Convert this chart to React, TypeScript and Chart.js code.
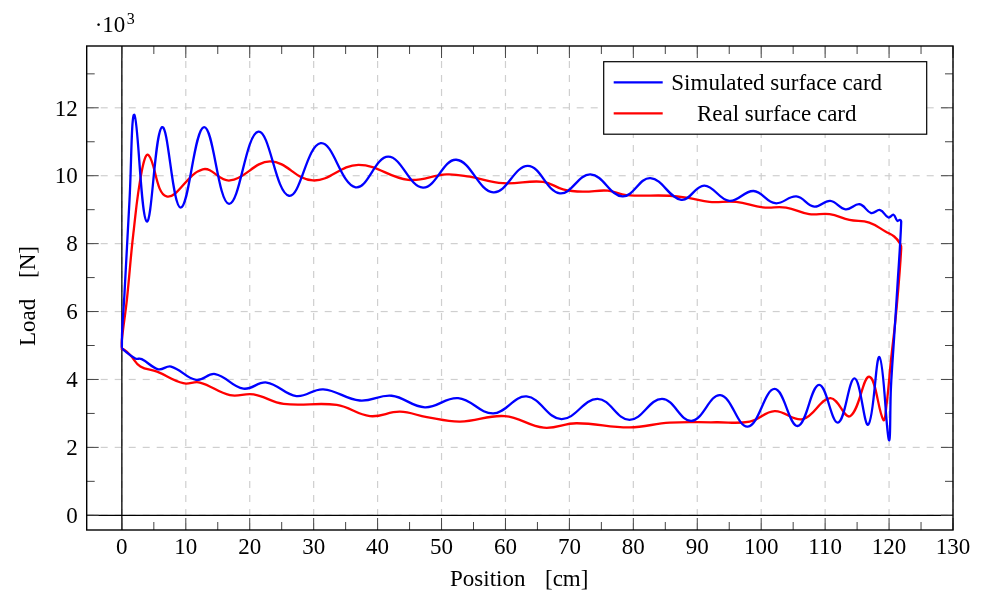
import React, { useEffect, useRef } from "react";
import { Chart, registerables } from "chart.js";

Chart.register(...registerables);

// ---------- data ----------
const X_TICKS = [0, 10, 20, 30, 40, 50, 60, 70, 80, 90, 100, 110, 120, 130];
const X_MINOR = [5, 15, 25, 35, 45, 55, 65, 75, 85, 95, 105, 115, 125];
const Y_TICKS = [0, 2000, 4000, 6000, 8000, 10000, 12000];
const Y_MINOR = [1000, 3000, 5000, 7000, 9000, 11000, 13000];
const X_MIN = -5.5;
const X_MAX = 130;
const Y_MIN = -433;
const Y_MAX = 13820;

const SERIES_LABELS = ["Simulated surface card", "Real surface card"];
const X_TITLE = ["Position", "[cm]"];
const Y_TITLE = ["Load", "[N]"];

// Simulated surface card: position [cm]
const SIM_X = [
  0, 0.05, 0.4, 1.2, 1.97, 3.9, 6.3, 9.2, 12.86, 16.77, 21.35, 26.14, 31.1, 36.56, 41.66,
  47.1, 52.3, 58.1, 63.5, 68.5, 73.3, 78.3, 82.66, 87.5, 91.1, 95.0, 98.8, 102.2, 105.5,
  108.3, 110.8, 113.2, 115.4, 117.2, 118.6, 119.9, 120.7, 121.3, 121.7, 121.9,
  121.3, 120.8, 120.3, 119.97,
  118.5, 116.75, 114.6, 112.0, 109.05, 105.7, 102.1, 97.9, 93.6, 89.1, 84.5, 79.4, 74.4,
  68.75, 63.3, 58.1, 52.6, 47.4, 42.2, 37.2, 31.5, 27.3, 22.65, 19.0, 14.6, 11.6, 7.7,
  5.7, 3.1, 2.1, 0.25, 0,
];
// Simulated surface card: load [N]
const SIM_LOAD = [
  4930, 5450, 6500, 9300, 11790, 8650, 11430, 9060, 11430, 9170, 11300, 9410, 10960, 9660, 10560,
  9650, 10470, 9510, 10290, 9480, 10040, 9390, 9930, 9290, 9710, 9260, 9550, 9190, 9390,
  9090, 9260, 9010, 9160, 8900, 8990, 8770, 8850, 8670, 8700, 8650,
  6730, 5260, 3790, 2220,
  4660, 2670, 4030, 2730, 3840, 2630, 3720, 2610, 3540, 2780, 3430, 2810, 3430,
  2830, 3500, 3000, 3450, 3180, 3520, 3380, 3710, 3510, 3910, 3730, 4160, 3990, 4380,
  4300, 4600, 4620, 4870, 4930,
];

// Real surface card: position [cm]
const REAL_X = [
  0, 0, 0.78, 1.8, 3.1, 4.16, 7.0, 12.65, 16.9, 23.2, 29.9, 37.0, 44.8, 50.8, 54.4, 59.6,
  65.9, 69.0, 72.1, 76.0, 78.9, 85.7, 88.8, 91.9, 96.1, 100.25, 103.9, 107.5, 110.7, 113.8,
  116.9, 119.5, 120.8, 121.7, 121.9,
  121.1, 120.3, 119.6, 119.1,
  116.9, 113.9, 110.8, 106.5, 102.1, 98.2, 93.0, 85.7, 79.4, 71.1, 66.0, 59.9, 52.9, 47.7,
  43.5, 38.8, 33.6, 25.3, 20.6, 16.9, 12.2, 9.6, 5.5, 2.9, 1.3, 0.25, 0,
];
// Real surface card: load [N]
const REAL_LOAD = [
  4870, 5160, 6340, 8300, 10120, 10610, 9390, 10190, 9860, 10420, 9860, 10320, 9880, 10040, 9970, 9780,
  9820, 9600, 9530, 9560, 9430, 9410, 9340, 9230, 9230, 9070, 9060, 8870, 8870, 8700,
  8620, 8350, 8210, 8010, 7860,
  5950, 4570, 3250, 2810,
  4080, 2920, 3450, 2830, 3070, 2760, 2740, 2730, 2590, 2710, 2580, 2920, 2760, 2890,
  3050, 2920, 3250, 3280, 3560, 3540, 3910, 3890, 4230, 4380, 4720, 4890, 4870,
];

const SERIES_COLORS = ["#0000ff", "#ff0000"];
const FONT = "'Liberation Serif', 'DejaVu Serif', serif";

const toPoints = (xs: number[], ys: number[]) => xs.map((x, i) => ({ x, y: ys[i] }));

const framePlugin = {
  id: "pgfFrame",
  beforeDatasetsDraw(chart: any) {
    const { ctx, chartArea: a, scales } = chart;
    const sx = scales.x;
    const sy = scales.y;
    ctx.save();
    // dashed grid
    ctx.strokeStyle = "#cfcfcf";
    ctx.lineWidth = 1.2;
    ctx.setLineDash([7, 7]);
    for (const t of X_TICKS) {
      const px = sx.getPixelForValue(t);
      ctx.beginPath();
      ctx.moveTo(px, a.bottom);
      ctx.lineTo(px, a.top);
      ctx.stroke();
    }
    for (const t of Y_TICKS) {
      const py = sy.getPixelForValue(t);
      ctx.beginPath();
      ctx.moveTo(a.left, py);
      ctx.lineTo(a.right, py);
      ctx.stroke();
    }
    ctx.setLineDash([]);
    // zero axes
    ctx.strokeStyle = "#000";
    ctx.lineWidth = 1.3;
    const x0 = sx.getPixelForValue(0);
    const y0 = sy.getPixelForValue(0);
    ctx.beginPath();
    ctx.moveTo(x0, a.top);
    ctx.lineTo(x0, a.bottom);
    ctx.moveTo(a.left, y0);
    ctx.lineTo(a.right, y0);
    ctx.stroke();
    ctx.restore();
  },
  afterDatasetsDraw(chart: any) {
    const { ctx, chartArea: a, scales } = chart;
    const sx = scales.x;
    const sy = scales.y;
    ctx.save();
    // ticks inside, on all four sides
    ctx.strokeStyle = "#444";
    ctx.lineWidth = 1;
    const tick = (t: number, len: number, horiz: boolean) => {
      ctx.beginPath();
      if (horiz) {
        const px = sx.getPixelForValue(t);
        ctx.moveTo(px, a.bottom);
        ctx.lineTo(px, a.bottom - len);
        ctx.moveTo(px, a.top);
        ctx.lineTo(px, a.top + len);
      } else {
        const py = sy.getPixelForValue(t);
        ctx.moveTo(a.left, py);
        ctx.lineTo(a.left + len, py);
        ctx.moveTo(a.right, py);
        ctx.lineTo(a.right - len, py);
      }
      ctx.stroke();
    };
    X_TICKS.forEach((t) => tick(t, 12, true));
    X_MINOR.forEach((t) => tick(t, 8, true));
    Y_TICKS.forEach((t) => tick(t, 12, false));
    Y_MINOR.forEach((t) => tick(t, 8, false));

    // frame
    ctx.strokeStyle = "#000";
    ctx.lineWidth = 1.4;
    ctx.strokeRect(a.left, a.top, a.right - a.left, a.bottom - a.top);

    // tick labels
    ctx.fillStyle = "#000";
    ctx.font = `23px ${FONT}`;
    ctx.textAlign = "center";
    ctx.textBaseline = "alphabetic";
    for (const t of X_TICKS) {
      ctx.fillText(String(t), sx.getPixelForValue(t), a.bottom + 24);
    }
    ctx.textAlign = "right";
    for (const t of Y_TICKS) {
      ctx.fillText(String(t / 1000), a.left - 9, sy.getPixelForValue(t) + 7.7);
    }
    // scale factor label
    ctx.textAlign = "left";
    ctx.fillText("\u00b710", a.left + 8, a.top - 14.5);
    ctx.font = `16px ${FONT}`;
    ctx.fillText("3", a.left + 40, a.top - 22);

    // axis titles
    ctx.font = `23px ${FONT}`;
    ctx.textAlign = "left";
    ctx.fillText(X_TITLE[0], 450, 586);
    ctx.fillText(X_TITLE[1], 545, 586);
    ctx.save();
    ctx.translate(35, 346);
    ctx.rotate(-Math.PI / 2);
    ctx.fillText(Y_TITLE[0], 0, 0);
    ctx.fillText(Y_TITLE[1], 68, 0);
    ctx.restore();

    // legend
    const lw = 323;
    const lh = 72.5;
    const lx = a.right - 26.3 - lw;
    const ly = a.top + 15.7;
    ctx.fillStyle = "#fff";
    ctx.fillRect(lx, ly, lw, lh);
    ctx.strokeStyle = "#000";
    ctx.lineWidth = 1.2;
    ctx.strokeRect(lx, ly, lw, lh);
    const rows = [ly + 20.6, ly + 51.6];
    SERIES_LABELS.forEach((lab, i) => {
      ctx.strokeStyle = SERIES_COLORS[i];
      ctx.lineWidth = 2.2;
      ctx.beginPath();
      ctx.moveTo(lx + 10, rows[i]);
      ctx.lineTo(lx + 59, rows[i]);
      ctx.stroke();
      ctx.fillStyle = "#000";
      ctx.font = `23px ${FONT}`;
      ctx.textAlign = "center";
      ctx.textBaseline = "alphabetic";
      ctx.fillText(lab, lx + 173, rows[i] + 7.5);
    });
    ctx.restore();
  },
};

export default function App() {
  const ref = useRef<HTMLCanvasElement | null>(null);
  useEffect(() => {
    if (!ref.current) return;
    const chart = new Chart(ref.current, {
      type: "scatter",
      data: {
        datasets: [
          {
            label: SERIES_LABELS[0],
            data: toPoints(SIM_X, SIM_LOAD),
            showLine: true,
            borderColor: SERIES_COLORS[0],
            backgroundColor: SERIES_COLORS[0],
            borderWidth: 2.3,
            pointRadius: 0,
            tension: 0.4,
            fill: false,
          },
          {
            label: SERIES_LABELS[1],
            data: toPoints(REAL_X, REAL_LOAD),
            showLine: true,
            borderColor: SERIES_COLORS[1],
            backgroundColor: SERIES_COLORS[1],
            borderWidth: 2.3,
            pointRadius: 0,
            tension: 0.4,
            fill: false,
          },
        ],
      },
      options: {
        animation: false,
        responsive: false,
        devicePixelRatio: 1,
        layout: { padding: { left: 86.7, right: 33, top: 46, bottom: 63 } },
        plugins: { legend: { display: false }, tooltip: { enabled: false } },
        scales: {
          x: { type: "linear", display: false, min: X_MIN, max: X_MAX },
          y: { type: "linear", display: false, min: Y_MIN, max: Y_MAX },
        },
      },
      plugins: [framePlugin],
    });
    return () => chart.destroy();
  }, []);
  return (
    <div style={{ position: "fixed", left: 0, top: 0, width: 986, height: 593, background: "#fff" }}>
      <canvas ref={ref} width={986} height={593} />
    </div>
  );
}
